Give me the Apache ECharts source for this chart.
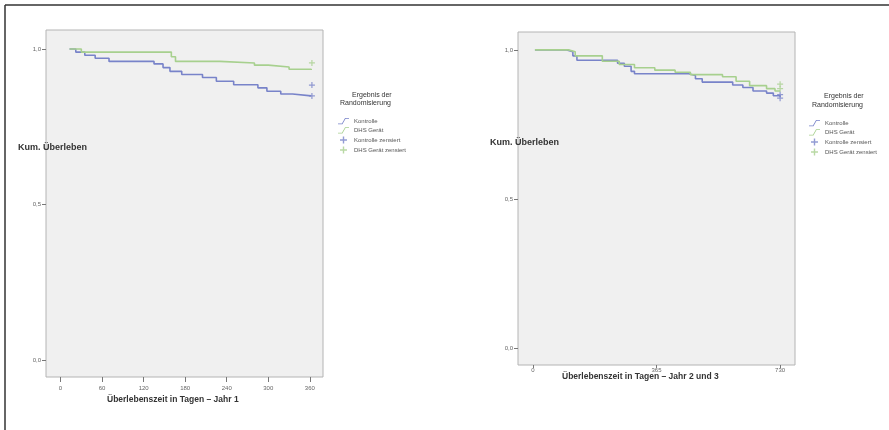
<!DOCTYPE html>
<html>
<head>
<meta charset="utf-8">
<script src="https://cdn.jsdelivr.net/npm/echarts@6/dist/echarts.min.js"></script>
<style>
  html, body { margin: 0; padding: 0; background: #fff; }
  #main { width: 889px; height: 430px; }
</style>
</head>
<body>
<div id="main"></div>
<script>
// Daten - Jahr 1
const kontrolleJahr1 = [[13, 1.0], [22, 0.99], [35, 0.98], [50, 0.97], [70, 0.96], [135, 0.952], [148, 0.94], [158, 0.928], [175, 0.918], [205, 0.908], [225, 0.896], [250, 0.885], [285, 0.875], [298, 0.864], [318, 0.855], [335, 0.849], [362, 0.847]]
const geraetJahr1 = [[13, 1.0], [30, 0.99], [160, 0.975], [166, 0.96], [230, 0.955], [280, 0.948], [300, 0.942], [330, 0.935], [362, 0.932]]
const kontrolleZensJahr1 = [[363, 0.884], [363, 0.849]]
const geraetZensJahr1 = [[363, 0.955]]

// Jahr 2 und 3
const kontrolleJahr23 = [[6, 1.0], [100, 0.994], [118, 0.98], [130, 0.965], [250, 0.955], [270, 0.945], [290, 0.928], [300, 0.92], [460, 0.914], [480, 0.903], [500, 0.892], [590, 0.882], [620, 0.874], [650, 0.862], [690, 0.855], [710, 0.846], [730, 0.843]]
const geraetJahr23 = [[6, 1.0], [105, 0.994], [125, 0.98], [205, 0.962], [255, 0.951], [300, 0.94], [360, 0.932], [420, 0.925], [465, 0.917], [560, 0.91], [600, 0.895], [640, 0.88], [690, 0.87], [715, 0.862], [730, 0.86]]
const kontrolleZensJahr23 = [[730, 0.85], [730, 0.838]]
const geraetZensJahr23 = [[730, 0.885], [730, 0.87]]

// Achsen
const xTicksJahr1 = [0, 60, 120, 180, 240, 300, 360]
const xTicksJahr23 = [0, 365, 730]
const yTicks = [0, 0.5, 1]
const yTickLabels = ['0,0', '0,5', '1,0']
const legendNames = ['Kontrolle', 'DHS Gerät', 'Kontrolle zensiert', 'DHS Gerät zensiert']

const blau = '#7883c9'
const gruen = '#a7d08e'
const plus = 'path://M4,0 L6,0 L6,4 L10,4 L10,6 L6,6 L6,10 L4,10 L4,6 L0,6 L0,4 L4,4Z'
const stufe = 'path://M0,8 L5,8 L9,1 L14,1 L14,2 L9.6,2 L5.6,9 L0,9Z'

let myChart = echarts.init(document.getElementById('main'))

function xAxisCfg(idx, min, max, ticks, labelMargin, tickLen) {
  return {
    type: 'value', gridIndex: idx, min: min, max: max, position: 'bottom',
    axisLine: { show: false, onZero: false },
    axisTick: { show: true, customValues: ticks, length: tickLen, lineStyle: { color: '#777' } },
    axisLabel: { customValues: ticks, fontSize: 6, color: '#666', margin: labelMargin },
    splitLine: { show: false }
  }
}
function yAxisCfg(idx, min, max) {
  return {
    type: 'value', gridIndex: idx, min: min, max: max, position: 'left',
    axisLine: { show: false, onZero: false },
    axisTick: { show: true, customValues: yTicks, length: 4, lineStyle: { color: '#777' } },
    axisLabel: {
      customValues: yTicks, fontSize: 6, color: '#666', margin: 5,
      formatter: v => yTickLabels[yTicks.indexOf(v)]
    },
    splitLine: { show: false }
  }
}
function stepSeries(name, data, color, idx) {
  return {
    name: name, type: 'line', step: 'end', data: data,
    xAxisIndex: idx, yAxisIndex: idx, showSymbol: false,
    lineStyle: { color: color, width: 1.6 }, itemStyle: { color: color }
  }
}
function zensSeries(name, data, color, idx) {
  return {
    name: name, type: 'scatter', data: data, symbol: plus, symbolSize: 6,
    xAxisIndex: idx, yAxisIndex: idx, itemStyle: { color: color }
  }
}
function legendCfg(left, top) {
  return {
    orient: 'vertical', left: left, top: top, itemWidth: 11, itemHeight: 7, itemGap: 3,
    textStyle: { fontSize: 6, color: '#555' },
    data: [
      { name: legendNames[0], icon: stufe },
      { name: legendNames[1], icon: stufe },
      { name: legendNames[2], icon: plus },
      { name: legendNames[3], icon: plus }
    ]
  }
}
function text(x, y, str, size, weight, align) {
  return {
    type: 'text', left: x, top: y,
    style: { text: str, fontSize: size, fontWeight: weight, fill: '#333', align: align || 'left', fontFamily: 'Liberation Sans' }
  }
}

let option = {
  animation: false,
  textStyle: { fontFamily: 'Liberation Sans' },
  grid: [
    { left: 46, top: 30, width: 277, height: 347, show: true, backgroundColor: '#f0f0f0', borderColor: '#b4b4b4', borderWidth: 1 },
    { left: 518, top: 32, width: 277, height: 333, show: true, backgroundColor: '#f0f0f0', borderColor: '#b4b4b4', borderWidth: 1 }
  ],
  xAxis: [
    xAxisCfg(0, -21, 379, xTicksJahr1, 8, 5),
    xAxisCfg(1, -44, 774, xTicksJahr23, 2, 3)
  ],
  yAxis: [
    yAxisCfg(0, -0.055, 1.061),
    yAxisCfg(1, -0.057, 1.06)
  ],
  legend: [legendCfg(333, 113), legendCfg(804, 115)],
  series: [
    stepSeries(legendNames[0], kontrolleJahr1, blau, 0),
    stepSeries(legendNames[1], geraetJahr1, gruen, 0),
    zensSeries(legendNames[2], kontrolleZensJahr1, blau, 0),
    zensSeries(legendNames[3], geraetZensJahr1, gruen, 0),
    stepSeries(legendNames[0], kontrolleJahr23, blau, 1),
    stepSeries(legendNames[1], geraetJahr23, gruen, 1),
    zensSeries(legendNames[2], kontrolleZensJahr23, blau, 1),
    zensSeries(legendNames[3], geraetZensJahr23, gruen, 1)
  ],
  graphic: [
    // Rahmen
    { type: 'line', shape: { x1: 5, y1: 5, x2: 889, y2: 5 }, style: { stroke: '#333', lineWidth: 1.5 } },
    { type: 'line', shape: { x1: 5, y1: 5, x2: 5, y2: 430 }, style: { stroke: '#333', lineWidth: 1.5 } },
    // Achsentitel
    text(18, 143, 'Kum. Überleben', 9, 'bold'),
    text(490, 138, 'Kum. Überleben', 9, 'bold'),
    text(107, 395, 'Überlebenszeit in Tagen – Jahr 1', 8.5, 'bold'),
    text(562, 372, 'Überlebenszeit in Tagen – Jahr 2 und 3', 8.5, 'bold'),
    // Legendentitel
    text(352, 92, 'Ergebnis der', 7, 'normal'),
    text(340, 100, 'Randomisierung', 7, 'normal'),
    text(824, 93, 'Ergebnis der', 7, 'normal'),
    text(812, 102, 'Randomisierung', 7, 'normal')
  ]
}
myChart.setOption(option)
</script>
</body>
</html>
